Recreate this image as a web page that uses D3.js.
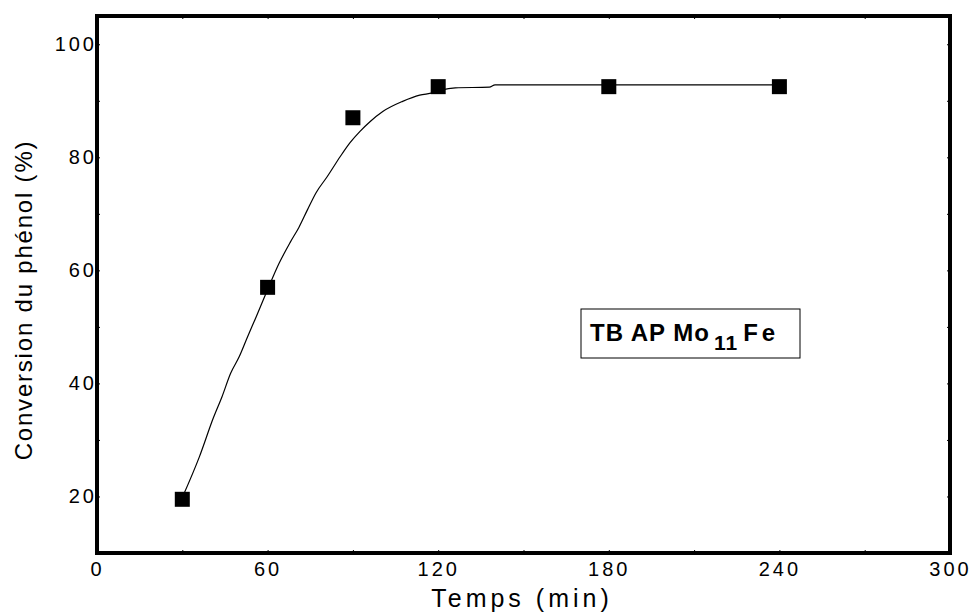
<!DOCTYPE html>
<html lang="fr">
<head>
<meta charset="utf-8">
<title>Conversion du phénol</title>
<script src="https://d3js.org/d3.v7.min.js"></script>
<style>
  body { margin: 0; background: #fff; }
  svg text { font-family: "Liberation Sans", Arial, sans-serif; fill: #000; }
  .tick text { font-size: 20px; letter-spacing: 3px; }
  .tick line { stroke: #000; stroke-width: 1; }
  .domain { display: none; }
</style>
</head>
<body>
<svg width="973" height="616"></svg>
<script>
// measured points
var temps = [30, 60, 90, 120, 180, 240];
var conversion = [19.5, 57, 87, 92.5, 92.5, 92.5];

// fitted curve
var curveX = [30, 36, 41, 44, 47, 50, 53, 56, 60, 64, 68, 71, 74, 77, 81, 85.5, 89, 92.5, 96, 100.5, 107.5, 113.5, 118, 121, 126, 138, 140, 180, 240];
var curveY = [19.8, 27, 34, 37.7, 41.8, 44.7, 48.3, 51.8, 56.6, 61.2, 65, 67.6, 70.7, 73.7, 76.6, 80.1, 82.6, 84.6, 86.3, 88.1, 89.9, 91, 91.4, 91.9, 92.3, 92.4, 92.8, 92.8, 92.8];

var xTicks = [0, 60, 120, 180, 240, 300];
var xMinor = [30, 90, 150, 210, 270];
var yTicks = [20, 40, 60, 80, 100];
var yMinor = [10, 30, 50, 70, 90];

var svg = d3.select('svg');
var pLeft = 97, pRight = 950, pTop = 16, pBottom = 553;

var x = d3.scaleLinear().domain([0, 300]).range([pLeft, pRight]);
var y = d3.scaleLinear().domain([10, 105]).range([pBottom, pTop]);

// minor ticks (tiny, inward)
svg.append('g').attr('transform', 'translate(0,' + pBottom + ')')
  .call(d3.axisBottom(x).tickValues(xMinor).tickSize(-3).tickFormat(''));
svg.append('g').attr('transform', 'translate(0,' + pTop + ')')
  .call(d3.axisTop(x).tickValues(xMinor).tickSize(-3).tickFormat(''));
svg.append('g').attr('transform', 'translate(' + pLeft + ',0)')
  .call(d3.axisLeft(y).tickValues(yMinor).tickSize(-3).tickFormat(''));
svg.append('g').attr('transform', 'translate(' + pRight + ',0)')
  .call(d3.axisRight(y).tickValues(yMinor).tickSize(-3).tickFormat(''));

// major ticks
var xa = svg.append('g').attr('transform', 'translate(0,' + pBottom + ')')
  .call(d3.axisBottom(x).tickValues(xTicks).tickSize(-3).tickFormat(d3.format('d')));
xa.selectAll('text').attr('y', 4).attr('dy', '0.95em');
svg.append('g').attr('transform', 'translate(0,' + pTop + ')')
  .call(d3.axisTop(x).tickValues(xTicks).tickSize(-3).tickFormat(''));
var ya = svg.append('g').attr('transform', 'translate(' + pLeft + ',0)')
  .call(d3.axisLeft(y).tickValues(yTicks).tickSize(-3).tickFormat(d3.format('d')));
ya.selectAll('text').attr('x', 0);
svg.append('g').attr('transform', 'translate(' + pRight + ',0)')
  .call(d3.axisRight(y).tickValues(yTicks).tickSize(-3).tickFormat(''));

// frame
svg.append('rect')
  .attr('x', pLeft).attr('y', pTop)
  .attr('width', pRight - pLeft).attr('height', pBottom - pTop)
  .attr('fill', 'none').attr('stroke', '#000').attr('stroke-width', 4);

// fitted curve
var line = d3.line()
  .x(function(d, i) { return x(curveX[i]); })
  .y(function(d) { return y(d); })
  .curve(d3.curveMonotoneX);

svg.append('path')
  .datum(curveY)
  .attr('d', line)
  .attr('fill', 'none')
  .attr('stroke', '#000')
  .attr('stroke-width', 1.2);

// markers
svg.append('g').selectAll('rect')
  .data(temps)
  .enter()
  .append('rect')
  .attr('x', function(d) { return x(d) - 7.5; })
  .attr('y', function(d, i) { return y(conversion[i]) - 7.5; })
  .attr('width', 15)
  .attr('height', 15)
  .attr('fill', '#000');

// legend box
svg.append('rect')
  .attr('x', 581).attr('y', 309)
  .attr('width', 219).attr('height', 49)
  .attr('fill', '#fff').attr('stroke', '#000').attr('stroke-width', 1);

var lab = svg.append('text')
  .attr('x', 590).attr('y', 341)
  .style('font-size', '24px').style('font-weight', 'bold');
lab.append('tspan').style('letter-spacing', '1px').text('TB AP Mo');
lab.append('tspan').attr('dy', 9).style('font-size', '21px').style('letter-spacing', '1px').attr('dx', 4).text('11');
lab.append('tspan').attr('dy', -9).attr('dx', 5).style('letter-spacing', '4px').text('Fe');

// axis titles
svg.append('text')
  .attr('x', 522).attr('y', 607)
  .attr('text-anchor', 'middle')
  .style('font-size', '25px').style('letter-spacing', '4px')
  .text('Temps (min)');

svg.append('text')
  .attr('transform', 'translate(32,300) rotate(-90)')
  .attr('text-anchor', 'middle')
  .style('font-size', '24px').style('letter-spacing', '1.8px')
  .text('Conversion du phénol (%)');
</script>
</body>
</html>
